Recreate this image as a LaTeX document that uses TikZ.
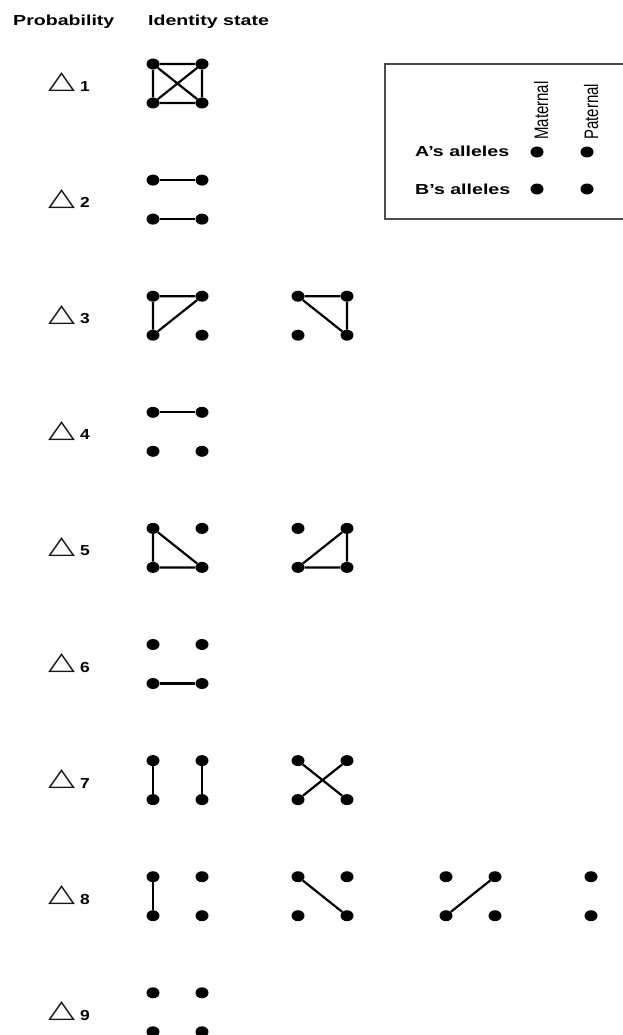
\documentclass[tikz,border=0pt]{standalone}
\usepackage{fontspec}
\usepackage{graphicx}
\setmainfont{Liberation Sans}
\newfontfamily\symfont{DejaVu Sans}
\usetikzlibrary{shapes.geometric}
\tikzset{
  dot/.style={ellipse, fill=black, inner sep=0pt, minimum width=13pt, minimum height=11pt},
  link/.style={line width=2.2pt, black},
  headtxt/.style={font=\bfseries\fontsize{14.5}{16}\selectfont, inner sep=0pt, anchor=base west},
  legtxt/.style={font=\bfseries\fontsize{14.5}{16}\selectfont, inner sep=0pt, anchor=base west},
  vtxt/.style={font=\fontsize{15}{16}\selectfont, inner sep=0pt, anchor=base west, rotate=90},
  trisym/.style={inner sep=0pt, anchor=base west, text=black!90},
  digit/.style={font=\bfseries\fontsize{14.5}{16}\selectfont, inner sep=0pt, anchor=base west},
  legbox/.style={line width=1.2pt, black!70}
}
\newcommand\xstr[1]{\scalebox{1.35}[1]{#1}}
\newcommand\fourdots[3]{%
  \node[dot] (#1tl) at (#2,#3) {};
  \node[dot] (#1tr) at ({#2+49},#3) {};
  \node[dot] (#1bl) at (#2,{#3+39}) {};
  \node[dot] (#1br) at ({#2+49},{#3+39}) {};
}
\newcommand\problabel[2]{%
  \node[trisym] (tri#1) at (48,{#2+25}) {\resizebox{27pt}{16pt}{\symfont △}};
  \node[digit] (num#1) at (80,{#2+27.5}) {\scalebox{1.2}[1]{#1}};
}
\begin{document}
\begin{tikzpicture}[x=1pt,y=-1pt]
\useasboundingbox (0,0) rectangle (623,1035);
% headers
\node[headtxt] (hprob) at (13,25.5) {\xstr{Probability}};
\node[headtxt] (hid) at (148,25.5) {\xstr{Identity state}};
% legend
\draw[legbox] (385,64) rectangle (640,219);
\node[legtxt] (la) at (415,157) {\xstr{A’s alleles}};
\node[legtxt] (lb) at (415,194) {\xstr{B’s alleles}};
\node[dot] (lam) at (537,152) {};
\node[dot] (lap) at (587,152) {};
\node[dot] (lbm) at (537,189) {};
\node[dot] (lbp) at (587,189) {};
\node[vtxt] (mat) at (548,140) {\scalebox{1}[1.3]{Maternal}};
\node[vtxt] (pat) at (598,140) {\scalebox{1}[1.3]{Paternal}};
% labels
\problabel{1}{64}
\problabel{2}{180.1}
\problabel{3}{296.2}
\problabel{4}{412.3}
\problabel{5}{528.4}
\problabel{6}{644.5}
\problabel{7}{760.6}
\problabel{8}{876.7}
\problabel{9}{992.8}
% row 1
\fourdots{ra}{153}{64}
\draw[link] (ratl) -- (ratr) (rabl) -- (rabr) (ratl) -- (rabl) (ratr) -- (rabr) (ratl) -- (rabr) (ratr) -- (rabl);
% row 2
\fourdots{rb}{153}{180.1}
\draw[link] (rbtl) -- (rbtr) (rbbl) -- (rbbr);
% row 3
\fourdots{rca}{153}{296.2}
\draw[link] (rcatl) -- (rcatr) (rcatl) -- (rcabl) (rcabl) -- (rcatr);
\fourdots{rcb}{298}{296.2}
\draw[link] (rcbtl) -- (rcbtr) (rcbtr) -- (rcbbr) (rcbtl) -- (rcbbr);
% row 4
\fourdots{rd}{153}{412.3}
\draw[link] (rdtl) -- (rdtr);
% row 5
\fourdots{rea}{153}{528.4}
\draw[link] (reabl) -- (reabr) (reatl) -- (reabl) (reatl) -- (reabr);
\fourdots{reb}{298}{528.4}
\draw[link] (rebbl) -- (rebbr) (rebtr) -- (rebbr) (rebbl) -- (rebtr);
% row 6
\fourdots{rf}{153}{644.5}
\draw[link] (rfbl) -- (rfbr);
% row 7
\fourdots{rga}{153}{760.6}
\draw[link] (rgatl) -- (rgabl) (rgatr) -- (rgabr);
\fourdots{rgb}{298}{760.6}
\draw[link] (rgbtl) -- (rgbbr) (rgbtr) -- (rgbbl);
% row 8
\fourdots{rha}{153}{876.7}
\draw[link] (rhatl) -- (rhabl);
\fourdots{rhb}{298}{876.7}
\draw[link] (rhbtl) -- (rhbbr);
\fourdots{rhc}{446}{876.7}
\draw[link] (rhcbl) -- (rhctr);
\node[dot] (rhdtl) at (591,876.7) {};
\node[dot] (rhdbl) at (591,915.7) {};
% row 9
\fourdots{ri}{153}{992.8}
\end{tikzpicture}
\end{document}
